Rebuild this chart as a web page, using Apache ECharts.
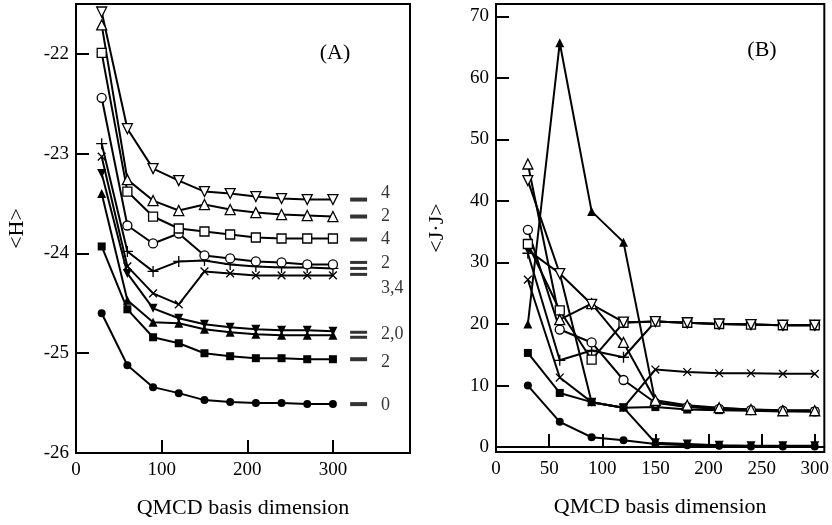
<!DOCTYPE html>
<html>
<head>
<meta charset="utf-8">
<title>QMCD basis dimension</title>
<script src="https://cdn.jsdelivr.net/npm/echarts@6.0.0/dist/echarts.min.js"></script>
<style>
  html, body { margin: 0; padding: 0; background: #fff; }
  #chart { width: 832px; height: 525px; }
</style>
</head>
<body>
<div id="chart"></div>
<script>
// QMCD basis dimension
var dims = [30, 60, 90, 120, 150, 180, 210, 240, 270, 300]

// panel A : <H>
var hTriDownOpen = [-21.58, -22.75, -23.15, -23.27, -23.38, -23.40, -23.43, -23.45, -23.46, -23.46]
var hTriUpOpen = [-21.71, -23.26, -23.47, -23.57, -23.51, -23.56, -23.59, -23.61, -23.62, -23.63]
var hSquareOpen = [-21.99, -23.38, -23.63, -23.75, -23.78, -23.81, -23.84, -23.85, -23.85, -23.85]
var hCircleOpen = [-22.44, -23.72, -23.90, -23.80, -24.02, -24.05, -24.08, -24.09, -24.11, -24.11]
var hPlus = [-22.90, -23.98, -24.18, -24.08, -24.07, -24.11, -24.13, -24.14, -24.14, -24.15]
var hCross = [-23.03, -24.13, -24.40, -24.51, -24.18, -24.20, -24.22, -24.22, -24.22, -24.22]
var hTriDownFilled = [-23.20, -24.20, -24.55, -24.65, -24.71, -24.74, -24.76, -24.77, -24.77, -24.78]
var hTriUpFilled = [-23.40, -24.47, -24.69, -24.70, -24.76, -24.79, -24.81, -24.82, -24.82, -24.82]
var hSquareFilled = [-23.93, -24.56, -24.84, -24.90, -25.00, -25.03, -25.05, -25.05, -25.06, -25.06]
var hCircleFilled = [-24.60, -25.12, -25.34, -25.40, -25.47, -25.49, -25.50, -25.50, -25.51, -25.51]

// exact levels drawn as dashes at the right of panel A (groups of close levels)
var exactLevels = [[-23.46], [-23.63], [-23.86], [-24.09, -24.15, -24.21], [-24.79, -24.84], [-25.06], [-25.51]]
var levelTexts = ['4', '2', '4', '2', '3,4', '2,0', '2', '0']
var levelTextAt = [-23.40, -23.63, -23.86, -24.10, -24.35, -24.81, -25.09, -25.52]

// panel B : <J.J>
var jTriDownOpen = [43.3, 28.2, 23.2, 20.3, 20.4, 20.2, 20.0, 19.9, 19.8, 19.8]
var jTriUpOpen = [46.0, 20.7, 23.3, 17.0, 7.6, 6.8, 6.4, 6.1, 5.9, 5.9]
var jSquareOpen = [33.0, 22.2, 14.2, 20.2, 20.4, 20.2, 20.0, 19.9, 19.8, 19.8]
var jCircleOpen = [35.3, 19.1, 17.0, 10.9, 7.2, 6.5, 6.2, 6.0, 5.9, 5.8]
var jPlus = [31.5, 14.1, 15.7, 14.6, 20.4, 20.2, 20.0, 19.9, 19.8, 19.8]
var jCross = [27.2, 11.3, 7.3, 6.4, 12.6, 12.2, 12.0, 12.0, 11.9, 11.9]
var jTriDownFilled = [32.0, 28.2, 7.3, 6.4, 0.7, 0.5, 0.3, 0.2, 0.2, 0.2]
var jTriUpFilled = [20.0, 65.7, 38.3, 33.3, 7.3, 6.6, 6.3, 6.1, 6.0, 6.0]
var jSquareFilled = [15.3, 8.8, 7.3, 6.4, 6.5, 6.1, 6.0, 5.9, 5.8, 5.8]
var jCircleFilled = [10.0, 4.1, 1.6, 1.1, 0.5, 0.3, 0.2, 0.1, 0.1, 0.1]

var FONT = 'Liberation Serif'
var PLUS = 'path://M0,4.4h10v1.2h-10z M4.4,0h1.2v10h-1.2z'

// marker look for each curve
var markers = {
  triDownOpen: { symbol: 'triangle', rotate: 180, size: 10, open: true },
  triUpOpen: { symbol: 'triangle', rotate: 0, size: 10, open: true },
  squareOpen: { symbol: 'rect', rotate: 0, size: 9, open: true },
  circleOpen: { symbol: 'circle', rotate: 0, size: 9, open: true },
  plus: { symbol: PLUS, rotate: 0, size: 11, open: false },
  cross: { symbol: PLUS, rotate: 45, size: 11, open: false },
  triDownFilled: { symbol: 'triangle', rotate: 180, size: 9, open: false },
  triUpFilled: { symbol: 'triangle', rotate: 0, size: 9, open: false },
  squareFilled: { symbol: 'rect', rotate: 0, size: 8, open: false },
  circleFilled: { symbol: 'circle', rotate: 0, size: 8, open: false },
}

function curve(idx, key, values) {
  var m = markers[key]
  return {
    type: 'line',
    xAxisIndex: idx,
    yAxisIndex: idx,
    data: dims.map(function (d, i) { return [d, values[i]] }),
    symbol: m.symbol,
    symbolRotate: m.rotate,
    symbolSize: m.size,
    showAllSymbol: true,
    lineStyle: { color: '#000', width: 2 },
    itemStyle: {
      color: m.open ? '#fff' : '#000',
      borderColor: '#000',
      borderWidth: m.open ? 1.3 : 0,
    },
    z: 3,
    silent: true,
  }
}

function frameAxes(idx) {
  return {
    axisLine: { show: true, lineStyle: { color: '#000', width: 2 } },
    axisTick: { show: true, inside: true, length: 13, lineStyle: { color: '#000', width: 2 } },
    splitLine: { show: false },
    gridIndex: idx,
  }
}

var chart = echarts.init(document.getElementById('chart'), null, { renderer: 'canvas' })

var DASH_X = 330
var TEXT_X = 356

var dashData = []
exactLevels.forEach(function (grp) {
  grp.forEach(function (v) {
    dashData.push({ value: [DASH_X, v], symbolSize: [17, grp.length > 1 ? 3 : 4] })
  })
})

var series = [
  curve(0, 'circleFilled', hCircleFilled),
  curve(0, 'squareFilled', hSquareFilled),
  curve(0, 'triUpFilled', hTriUpFilled),
  curve(0, 'triDownFilled', hTriDownFilled),
  curve(0, 'cross', hCross),
  curve(0, 'plus', hPlus),
  curve(0, 'circleOpen', hCircleOpen),
  curve(0, 'squareOpen', hSquareOpen),
  curve(0, 'triUpOpen', hTriUpOpen),
  curve(0, 'triDownOpen', hTriDownOpen),

  curve(1, 'circleFilled', jCircleFilled),
  curve(1, 'squareFilled', jSquareFilled),
  curve(1, 'triUpFilled', jTriUpFilled),
  curve(1, 'triDownFilled', jTriDownFilled),
  curve(1, 'cross', jCross),
  curve(1, 'plus', jPlus),
  curve(1, 'circleOpen', jCircleOpen),
  curve(1, 'squareOpen', jSquareOpen),
  curve(1, 'triUpOpen', jTriUpOpen),
  curve(1, 'triDownOpen', jTriDownOpen),

  {
    type: 'scatter',
    xAxisIndex: 0,
    yAxisIndex: 0,
    symbol: 'rect',
    itemStyle: { color: '#000' },
    data: dashData,
    silent: true,
  },
  {
    type: 'scatter',
    xAxisIndex: 0,
    yAxisIndex: 0,
    symbolSize: 0,
    data: levelTexts.map(function (t, i) { return { name: t, value: [TEXT_X, levelTextAt[i]] } }),
    label: {
      show: true,
      position: 'right',
      distance: 0,
      formatter: '{b}',
      color: '#000',
      fontFamily: FONT,
      fontSize: 18,
    },
    silent: true,
  },
]

chart.setOption({
  animation: false,
  backgroundColor: '#fff',
  textStyle: { fontFamily: FONT, color: '#000' },
  grid: [
    { left: 76, top: 4, width: 334, height: 449, show: true, borderColor: '#000', borderWidth: 2 },
    { left: 496, top: 4, width: 335, height: 448, show: true, borderColor: '#000', borderWidth: 2 },
  ],
  xAxis: [
    Object.assign(frameAxes(0), {
      type: 'value', min: 0, max: 390, interval: 100,
      name: 'QMCD basis dimension', nameLocation: 'middle', nameGap: 44,
      nameTextStyle: { fontFamily: FONT, fontSize: 22, color: '#000' },
      axisLabel: { showMaxLabel: false, margin: 8, fontFamily: FONT, fontSize: 19, color: '#000' },
    }),
    Object.assign(frameAxes(1), {
      type: 'value', min: 0, max: 309, interval: 50,
      name: 'QMCD basis dimension', nameLocation: 'middle', nameGap: 44,
      nameTextStyle: { fontFamily: FONT, fontSize: 22, color: '#000' },
      axisLabel: { showMaxLabel: false, margin: 8, fontFamily: FONT, fontSize: 19, color: '#000' },
    }),
  ],
  yAxis: [
    Object.assign(frameAxes(0), {
      type: 'value', min: -26, max: -21.5, interval: 1,
      name: '<H>', nameLocation: 'middle', nameGap: 48,
      nameTextStyle: { fontFamily: FONT, fontSize: 22, color: '#000' },
      axisLabel: {
        margin: 7, fontFamily: FONT, fontSize: 19, color: '#000',
        formatter: function (v) { return Number.isInteger(v) ? String(v) : '' },
      },
    }),
    Object.assign(frameAxes(1), {
      type: 'value', min: -0.8, max: 72, splitNumber: 7,
      name: '<J\u00b7J>', nameLocation: 'middle', nameGap: 48,
      nameTextStyle: { fontFamily: FONT, fontSize: 22, color: '#000' },
      axisLabel: {
        margin: 7, fontFamily: FONT, fontSize: 19, color: '#000',
        formatter: function (v) { return Math.abs(v % 10) < 1e-6 ? String(v) : '' },
      },
    }),
  ],
  graphic: [
    { type: 'text', x: 335, y: 53, style: { text: '(A)', fontFamily: FONT, fontSize: 22, fill: '#000', textAlign: 'center', textVerticalAlign: 'middle' } },
    { type: 'text', x: 762, y: 50, style: { text: '(B)', fontFamily: FONT, fontSize: 22, fill: '#000', textAlign: 'center', textVerticalAlign: 'middle' } },
  ],
  series: series,
})
</script>
</body>
</html>
